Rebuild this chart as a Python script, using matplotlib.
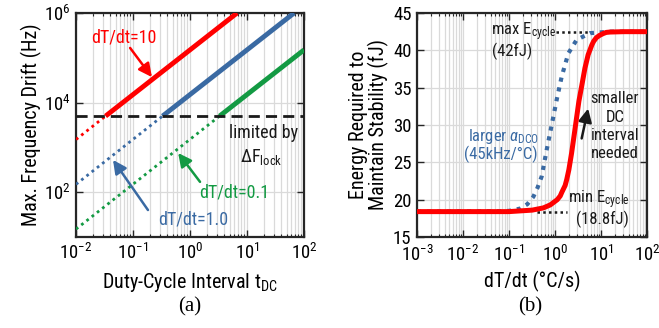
import math
import matplotlib
matplotlib.use("Agg")
import matplotlib.pyplot as plt
from matplotlib import font_manager
from matplotlib.ticker import LogLocator, FixedLocator, FuncFormatter, NullFormatter


# pick a narrow sans if there is one
def pick_font(names):
    for n in names:
        try:
            font_manager.findfont(n, fallback_to_default=False)
            return n
        except Exception:
            pass
    return "DejaVu Sans"


SANS = pick_font(["Liberation Sans Narrow", "Roboto Condensed", "Liberation Sans"])
plt.rcParams["font.family"] = [SANS, "DejaVu Sans"]
plt.rcParams["mathtext.fontset"] = "custom"
plt.rcParams["mathtext.rm"] = SANS
plt.rcParams["mathtext.it"] = SANS + ":italic"
plt.rcParams["mathtext.default"] = "regular"

# ---- data, panel (a) ----
rates = ["10", "1.0", "0.1"]
t_start = [0.01, 0.01, 0.01]
t_cross = [0.033, 0.33, 3.3]
t_end = [6.7, 67, 100]
drift_start = [1500, 150, 15]
drift_end = [1e6, 1e6, 1.5e5]
f_lock = 5000

# ---- data, panel (b) ----
red_x = [0.001, 0.1, 0.32, 0.56, 0.79, 1.12, 1.3, 1.41, 1.66, 1.8, 2.0, 2.29, 2.63,
         2.95, 3.31, 3.8, 4.47, 5.25, 6.31, 6.9, 7.94, 9.3, 11.2, 13, 15.8, 31.6, 100]
red_y = [18.4, 18.4, 18.6, 18.9, 19.3, 20.0, 20.5, 21.0, 21.9, 22.7, 24.0, 26.2, 28.8,
         31.0, 33.2, 35.2, 37.6, 39.4, 40.7, 41.2, 41.7, 42.0, 42.25, 42.4, 42.45, 42.5, 42.5]
blue_x = [0.001, 0.063, 0.1, 0.174, 0.251, 0.339, 0.417, 0.513, 0.661, 0.92,
          1.09, 1.40, 1.95, 2.95, 5.75, 15.8, 100]
blue_y = [18.4, 18.45, 18.5, 18.8, 19.4, 20.4, 21.6, 23.1, 26.7, 31.1,
          33.4, 36.5, 39.6, 41.4, 42.3, 42.5, 42.5]
e_max = 42.5
e_min = 18.3

RED = "#ff0000"
BLUE = "#3a6aa3"
GREEN = "#139a43"
FRAME = "#262626"
INK = "#1a1a1a"
GRID = "#dadada"

fig = plt.figure(figsize=(6.59, 3.28), dpi=100)
ax1 = fig.add_axes([76 / 659, 1 - 237 / 328, 228 / 659, 224 / 328])
ax2 = fig.add_axes([417 / 659, 1 - 237 / 328, 230 / 659, 224 / 328])


def pow10(v, pos):
    return "$10^{%d}$" % int(round(math.log10(v)))


def style(ax):
    for s in ax.spines.values():
        s.set_color(FRAME)
        s.set_linewidth(1.6)
    ax.tick_params(which="both", direction="in", top=True, right=True,
                   color=FRAME, labelsize=13.5, pad=4)
    ax.tick_params(which="major", length=5, width=1)
    ax.tick_params(which="minor", length=2.5, width=0.8)
    ax.set_axisbelow(True)


def log_x(ax, lo, hi):
    ax.set_xscale("log")
    ax.set_xlim(lo, hi)
    ax.xaxis.set_major_locator(LogLocator(base=10, numticks=10))
    ax.xaxis.set_minor_locator(LogLocator(base=10, subs=range(2, 10), numticks=10))
    ax.xaxis.set_major_formatter(FuncFormatter(pow10))
    ax.xaxis.set_minor_formatter(NullFormatter())


arrow = dict(arrowstyle="-|>", lw=1.8, mutation_scale=20, shrinkA=0, shrinkB=0)

# ---------------- panel (a) ----------------
ax = ax1
colors = [RED, BLUE, GREEN]
for i in range(3):
    ax.plot([t_start[i], t_cross[i]], [drift_start[i], f_lock], color=colors[i],
            lw=2, dashes=(1, 1.4), zorder=3)
    ax.plot([t_cross[i], t_end[i]], [f_lock, drift_end[i]], color=colors[i],
            lw=3.5, solid_capstyle="butt", zorder=3)
ax.axhline(f_lock, color=INK, lw=2, dashes=(4, 2.2), zorder=4)
log_x(ax, 0.01, 100)
ax.set_yscale("log")
ax.set_ylim(10, 1e6)
ax.yaxis.set_major_locator(FixedLocator([1e2, 1e4, 1e6]))
ax.yaxis.set_minor_locator(FixedLocator([]))
ax.yaxis.set_major_formatter(FuncFormatter(pow10))
ax.grid(True, which="both", axis="x", color=GRID, lw=0.9)
ax.grid(True, which="major", axis="y", color=GRID, lw=0.9)
style(ax)
ax.set_ylabel("Max. Frequency Drift (Hz)", fontsize=14.5, labelpad=1)
ax.set_xlabel(r"Duty-Cycle Interval $t_{DC}$", fontsize=14.5, labelpad=6)

ax.text(0.069, 2.9e5, "dT/dt=10", color=RED, fontsize=13, ha="center", va="center")
ax.annotate("", xy=(0.215, 3.7e4), xytext=(0.089, 1.66e5),
            arrowprops=dict(arrow, color=RED))
ax.text(78, 2100, "limited by", color=INK, fontsize=13, ha="right", va="center")
ax.text(17.6, 615, r"$\Delta F_{lock}$", color=INK, fontsize=13, ha="center", va="center")
ax.text(1.13, 24, "dT/dt=1.0", color=BLUE, fontsize=13, ha="center", va="center")
ax.annotate("", xy=(0.0446, 525), xytext=(0.183, 40),
            arrowprops=dict(arrow, color=BLUE))
ax.text(5.9, 96, "dT/dt=0.1", color=GREEN, fontsize=13, ha="center", va="center")
ax.annotate("", xy=(0.62, 750), xytext=(1.5, 170),
            arrowprops=dict(arrow, color=GREEN))

# ---------------- panel (b) ----------------
ax = ax2
ax.plot([1.05, 5.75], [e_max, e_max], color=INK, lw=1.8, dashes=(1, 1.3), zorder=2)
ax.plot([0.41, 1.8], [e_min, e_min], color=INK, lw=1.8, dashes=(1, 1.3), zorder=2)
ax.plot(blue_x, blue_y, color=BLUE, lw=3, dashes=(1, 1.4), zorder=3)
ax.plot(red_x, red_y, color=RED, lw=3.6, zorder=4)
log_x(ax, 1e-3, 100)
ax.set_ylim(15, 45)
ax.set_yticks([15, 20, 25, 30, 35, 40, 45])
ax.grid(True, which="both", axis="x", color=GRID, lw=0.9)
ax.grid(True, which="major", axis="y", color=GRID, lw=0.9)
style(ax)
ax.tick_params(axis="x", which="major", pad=6)
ax.set_ylabel("Energy Required to\nMaintain Stability (fJ)", fontsize=14.5,
              labelpad=3, linespacing=1.0)
ax.set_xlabel("dT/dt (°C/s)", fontsize=14.5, labelpad=4)

ax.text(1.05, 42.45, r"max $E_{cycle}$", color=INK, fontsize=12, ha="right", va="center")
ax.text(0.117, 39.8, "(42fJ)", color=INK, fontsize=12, ha="center", va="center")
for txt, yy in zip(["smaller", "DC", "interval", "needed"], [33.6, 31.0, 28.6, 26.2]):
    ax.text(20, yy, txt, color=INK, fontsize=12, ha="center", va="center")
ax.annotate("", xy=(5.25, 32.2), xytext=(3.8, 28.2),
            arrowprops=dict(arrow, color=INK))
ax.text(0.078, 28.5, r"larger $\mathit{\alpha}_{DCO}$", color=BLUE, fontsize=12,
        ha="center", va="center")
ax.text(0.068, 26.1, "(45kHz/°C)", color=BLUE, fontsize=12, ha="center", va="center")
ax.text(1.9, 20.0, r"min $E_{cycle}$", color=INK, fontsize=12, ha="left", va="center")
ax.text(10.5, 17.3, "(18.8fJ)", color=INK, fontsize=12, ha="center", va="center")

# panel tags
fig.text(190 / 659, 1 - 307 / 328, "(a)", fontsize=15, ha="center", va="center",
         family=["Liberation Serif", "DejaVu Serif"])
fig.text(530 / 659, 1 - 307 / 328, "(b)", fontsize=15, ha="center", va="center",
         family=["Liberation Serif", "DejaVu Serif"])

fig.savefig("out.png", dpi=100)
